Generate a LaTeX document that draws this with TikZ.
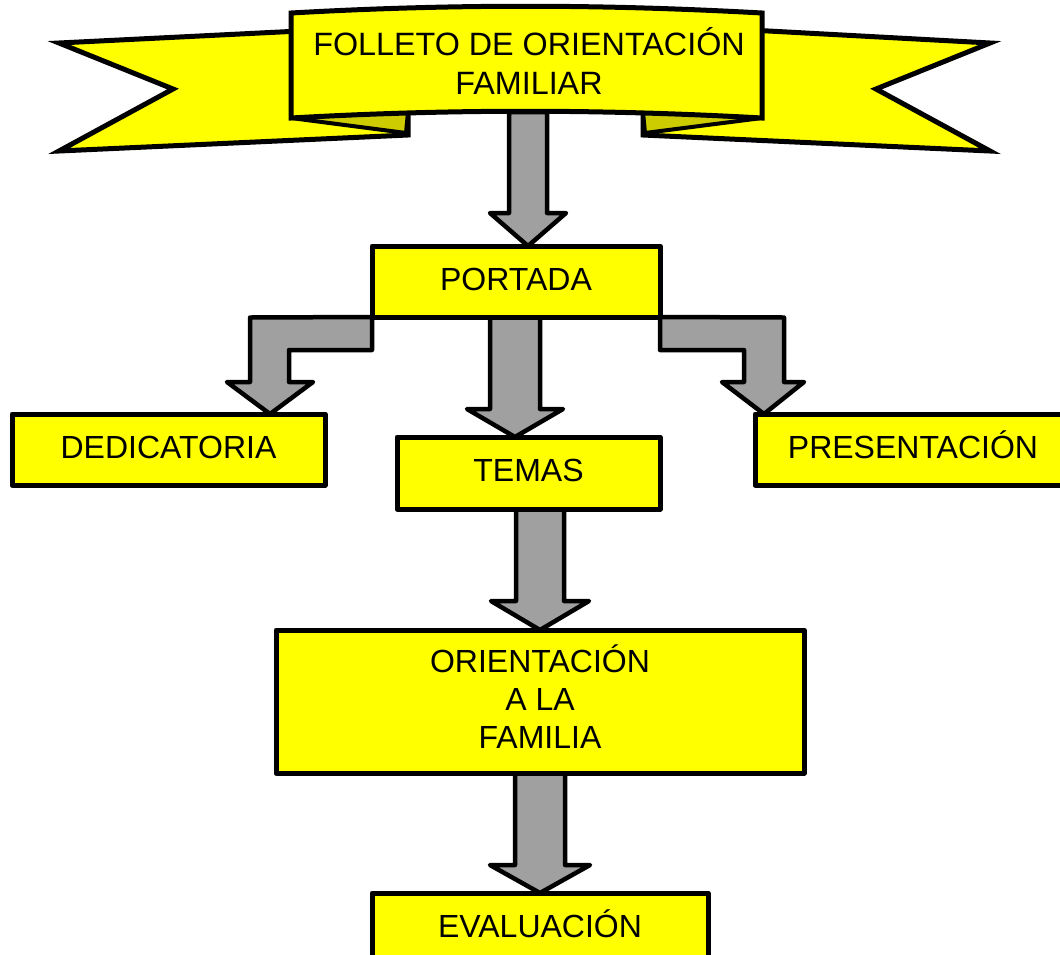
\documentclass[tikz,border=0pt]{standalone}
\usepackage{fontspec}
\setmainfont{Liberation Sans}
\usetikzlibrary{calc,backgrounds}
\definecolor{ylw}{RGB}{255,255,0}
\definecolor{grayarr}{RGB}{160,160,160}
\definecolor{foldc}{RGB}{204,204,0}
% #1 top point, #2 target node, #3 x centre, #4 shaft half width, #5 head half width, #6 head length
\newcommand\blkarrow[6]{%
  \draw[arr] let \p1=(#1), \p2=(#2.north) in
    (#3pt-#4pt,\y1) -- (#3pt-#4pt,\y2+#6pt) -- (#3pt-#5pt,\y2+#6pt) -- (#3pt,\y2)
    -- (#3pt+#5pt,\y2+#6pt) -- (#3pt+#4pt,\y2+#6pt) -- (#3pt+#4pt,\y1) -- cycle;}
\begin{document}
\begin{tikzpicture}[x=1pt,y=-1pt,
  boxbase/.style={draw=black, fill=ylw, line width=5pt, line join=round, rectangle,
    inner sep=0pt, outer sep=0pt, font=\fontsize{32}{38}\selectfont},
  box/.style={boxbase, text height=23pt, text depth=6pt},
  arr/.style={draw=black, fill=grayarr, line width=4.5pt, line join=round},
  ban/.style={draw=black, fill=ylw, line width=5pt, line join=miter},
  fold/.style={draw=black, fill=foldc, line width=4pt, line join=round}]
\useasboundingbox (0,0) rectangle (1060,954);

% ---- ribbon banner ----
\draw[ban] (300,31) -- (59,43) -- (173,89) -- (59,151) -- (408,135) -- (408,112) -- (300,112) -- cycle;
\draw[fold] (291,118) -- (406,133) -- (408,112) -- cycle;
\draw[ban] (750,30) -- (990,43) -- (876,89) -- (990,151) -- (643,135) -- (643,112) -- (750,112) -- cycle;
\draw[fold] (762,118) -- (645,133) -- (643,112) -- cycle;
\draw[ban] (291,13) .. controls (450,4) and (600,4) .. (762,13) -- (762,118)
   .. controls (600,109) and (450,109) .. (291,118) -- cycle;
\node[font=\fontsize{32.3}{39}\selectfont, inner sep=0pt, text height=23pt, text depth=39pt]
   (title) at (529,63.5) {\begin{tabular}[t]{@{}c@{}}FOLLETO DE ORIENTACIÓN\\FAMILIAR\end{tabular}};
\coordinate (titlebottom) at (528,112);

% ---- boxes ----
\node[box, minimum width=288pt, minimum height=71pt] (portada) at (516,281.5) {PORTADA};
\node[box, minimum width=313pt, minimum height=71pt] (dedic) at (168.5,449.5) {DEDICATORIA};
\node[box, minimum width=263pt, minimum height=72pt] (temas) at (528.5,473) {TEMAS};
\node[box, minimum width=316pt, minimum height=71pt] (present) at (913,449.5) {PRESENTACIÓN};
\node[boxbase, minimum width=528pt, minimum height=143pt, text height=23pt, text depth=82pt]
   (orient) at (540,701.5) {\begin{tabular}[t]{@{}c@{}}ORIENTACIÓN\\A LA\\FAMILIA\end{tabular}};
\node[box, minimum width=336pt, minimum height=72pt] (eval) at (540,929) {EVALUACIÓN};

% ---- block arrows ----
\begin{pgfonlayer}{background}
\blkarrow{titlebottom}{portada}{528}{19}{38}{33}
\blkarrow{portada.south}{temas}{515}{25}{48}{28}
\blkarrow{temas.south}{orient}{540}{24}{49}{29}
\blkarrow{orient.south}{eval}{540}{25}{50}{28}
\draw[arr] (portada.south west) -- (250,317.5) -- (250,382) -- (227,382) -- (270,414)
   -- (313,382) -- (289,382) -- (289,350) -- (372,350) -- cycle;
\draw[arr] (portada.south east) -- (784,317.5) -- (784,382) -- (804,382) -- (764,414)
   -- (722,382) -- (744,382) -- (744,350) -- (660,350) -- cycle;
\end{pgfonlayer}
\end{tikzpicture}
\end{document}
